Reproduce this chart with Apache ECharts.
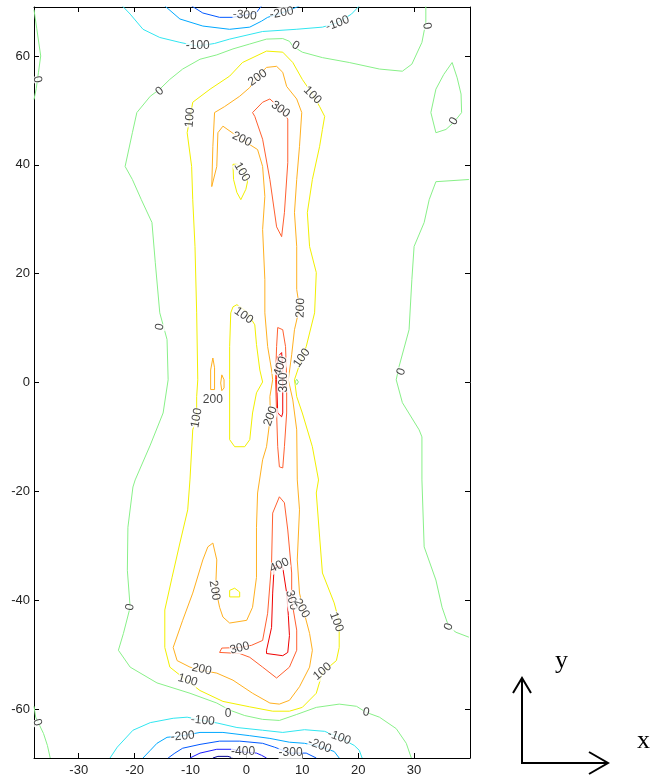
<!DOCTYPE html>
<html><head><meta charset="utf-8">
<script src="https://cdn.jsdelivr.net/npm/echarts/dist/echarts.min.js"></script>
<style>html,body{margin:0;padding:0;background:#fff}#c{width:653px;height:778px}</style>
</head><body><div id="c"></div>
<script>
// ---- axis ranges / ticks ----
const xRange = [-38, 40];
const yRange = [-69, 69];

// ---- contour lines (data coordinates), grouped by level ----
const lv0_main = [[32.1,69.2],[32.1,66.2],[31.4,62.5],[29.6,58.5],[27.9,57.2],[23.8,57.6],[18.4,58.8],[13.6,59.7],[10.0,60.7],[8.3,61.8],[7.7,62.7],[6.5,63.2],[3.6,63.1],[0.6,62.2],[-2.4,61.3],[-5.3,60.2],[-8.3,59.4],[-11.4,57.6],[-13.7,55.7],[-15.5,53.9],[-17.2,52.6],[-19.6,49.6],[-20.4,45.9],[-21.7,39.7],[-20.4,37.3],[-18.8,33.6],[-16.9,29.4],[-16.3,22.0],[-15.5,12.8],[-14.2,7.9],[-14.0,0.5],[-14.9,-5.6],[-17.2,-11.5],[-19.9,-17.9],[-20.3,-19.2],[-21.2,-26.6],[-21.3,-34.5],[-20.8,-41.3],[-22.0,-46.1],[-22.9,-49.2],[-20.8,-52.3],[-16.0,-55.2],[-10.1,-57.1],[-5.3,-58.9],[-3.0,-60.2],[-0.3,-61.2],[2.9,-61.9],[5.9,-62.1],[9.0,-61.0],[12.5,-59.7],[16.6,-59.1],[19.7,-59.5],[21.4,-60.6],[23.8,-61.5],[26.8,-63.6],[28.6,-66.3],[29.5,-69.0]];
const lv0_right = [[39.8,37.3],[33.9,36.9],[32.7,33.6],[31.8,29.4],[30.0,25.0],[29.6,18.9],[29.1,9.7],[27.3,2.9],[26.8,0.5],[27.9,-3.7],[30.9,-8.7],[31.4,-10.0],[31.4,-17.9],[31.8,-30.2],[33.9,-36.3],[35.0,-41.3],[36.2,-44.9],[37.5,-45.9],[39.8,-46.8]];
const lv0_ellipse = [[36.8,58.8],[35.3,56.6],[33.9,53.9],[33.0,49.6],[33.9,45.9],[35.7,46.5],[37.1,47.8],[38.5,49.6],[38.4,53.0],[37.7,56.0],[36.8,58.8]];
const lv0_topLeft = [[-38,68.5],[-37.5,65],[-36.8,60],[-37.2,57],[-37.6,54],[-38,52]];
const lv0_botLeft = [[-38,-59.5],[-37.7,-61.5],[-36.3,-64.5],[-35.6,-66.7],[-35.1,-69]];
const lv0_dot = [[8.7,0.1],[9.0,0.6],[9.3,0.1],[9.0,-0.4],[8.7,0.1]];

const lv100_main = [[-9.6,51.5],[-6.5,53.9],[-3.0,56.3],[-0.7,58.8],[3.6,60.9],[6.5,60.7],[8.3,58.8],[10.0,55.7],[11.8,53.0],[13.1,50.7],[14.0,48.9],[13.6,46.5],[13.1,43.4],[11.8,37.3],[10.9,31.2],[11.3,25.0],[12.5,20.2],[12.2,12.8],[10.7,6.6],[9.9,4.5],[8.6,0.5],[9.0,-2.6],[10.0,-5.6],[11.8,-11.8],[12.9,-17.9],[12.5,-20.3],[13.1,-28.4],[13.6,-35.0],[15.7,-40.5],[16.6,-44.0],[16.6,-48.7],[16.1,-51.1],[13.6,-53.3],[12.5,-57.1],[10.0,-59.7],[7.7,-60.4],[4.7,-60.4],[0.6,-59.6],[-4.2,-58.6],[-8.3,-56.6],[-10.5,-54.9],[-13.7,-52.3],[-14.6,-48.7],[-14.6,-41.8],[-13.3,-35.8],[-11.9,-29.5],[-10.5,-23.4],[-10.1,-17.9],[-9.6,-8.7],[-8.9,-6.5],[-8.9,-2.6],[-8.7,0.5],[-8.9,12.8],[-9.2,25.0],[-9.6,33.6],[-9.8,39.7],[-10.6,45.9],[-10.1,48.6],[-9.6,51.5]];
const lv100_inner = [[-1.7,14.3],[0.05,13.0],[1.5,10.6],[1.8,7.0],[2.4,2.3],[2.9,0.1],[1.8,-1.9],[1.1,-5.6],[0.6,-10.5],[-0.3,-11.8],[-2.1,-11.8],[-3.0,-10.5],[-3.0,0.5],[-3.0,6.6],[-2.8,12.8],[-2.4,13.9],[-1.7,14.3]];
const lv100_upper = [[-2.4,40.1],[-1.6,40.1],[-0.5,38.8],[0.2,36.9],[-0.1,35.5],[-1.0,33.6],[-1.7,34.9],[-2.3,37.3],[-2.4,40.1]];
const lv100_small = [[-3.0,-39.4],[-3.0,-38.2],[-2.1,-37.8],[-1.2,-38.5],[-1.2,-39.4],[-3.0,-39.4]];

const lv200_main = [[-6.2,36.0],[-6.0,43.4],[-5.7,49.6],[-3.9,50.7],[-1.2,52.6],[0.6,54.2],[2.0,56.3],[3.6,57.9],[5.4,58.1],[6.5,57.0],[7.2,54.4],[9.0,52.1],[9.9,49.6],[9.5,43.4],[9.0,37.3],[8.6,31.2],[9.0,25.0],[9.0,17.1],[9.5,13.7],[8.6,9.7],[8.1,5.1],[7.5,0.5],[8.3,-3.2],[9.0,-8.7],[9.1,-17.9],[9.5,-23.4],[9.1,-32.6],[9.5,-38.7],[10.2,-41.8],[11.3,-46.1],[11.8,-49.2],[11.3,-52.3],[9.5,-55.9],[7.7,-58.4],[5.9,-59.1],[4.2,-58.9],[1.1,-57.1],[-2.4,-54.7],[-5.3,-53.4],[-8.0,-52.9],[-10.1,-52.3],[-12.4,-51.1],[-13.1,-48.7],[-11.4,-43.7],[-9.6,-38.7],[-7.8,-32.6],[-6.9,-30.2],[-6.0,-29.5],[-5.3,-32.6],[-5.5,-37.8],[-4.8,-41.3],[-4.2,-43.1],[-3.0,-44.2],[0.05,-43.7],[1.1,-41.3],[1.8,-35.8],[1.8,-26.6],[2.0,-20.3],[2.9,-14.2],[3.6,-11.8],[4.3,-6.2],[4.2,-2.6],[4.7,0.5],[4.5,2.3],[3.8,6.6],[3.3,12.8],[3.3,18.9],[2.9,28.1],[3.3,34.2],[2.9,39.7],[2.0,42.8],[-0.9,44.7],[-4.2,47.1],[-5.1,45.9],[-5.3,39.7],[-6.2,36.0]];
const lv200_s1 = [[-6.4,-1.3],[-6.4,2.3],[-6.0,4.5],[-5.7,2.7],[-5.7,-1.3],[-6.4,-1.3]];
const lv200_s2 = [[-4.4,1.4],[-4.0,0.5],[-4.0,-1.0],[-4.4,-1.5],[-4.6,-0.1],[-4.4,1.4]];

const lv300_top = [[1.1,49.6],[2.9,51.5],[4.2,52.1],[5.9,50.5],[7.4,48.4],[7.4,40.4],[6.8,31.2],[6.3,26.8],[5.4,28.6],[4.2,37.3],[2.9,44.7],[1.5,48.9],[1.1,49.6]];
const lv300_mid = [[5.6,10.1],[6.5,9.7],[7.0,6.6],[7.2,0.5],[7.2,-5.6],[6.8,-11.8],[6.5,-15.7],[5.9,-15.5],[5.6,-11.8],[5.4,-5.6],[5.2,0.5],[5.4,6.6],[5.6,10.1]];
const lv300_bot = [[5.9,-21.0],[6.8,-22.1],[7.4,-27.1],[8.1,-35.0],[8.1,-40.0],[9.0,-45.5],[9.0,-49.2],[7.7,-52.3],[5.4,-54.3],[2.9,-52.3],[0.6,-50.5],[-1.2,-49.8],[-4.8,-49.6],[-4.4,-48.8],[-1.2,-48.7],[0.9,-48.3],[2.9,-47.4],[3.8,-42.4],[4.5,-33.2],[4.7,-24.0],[5.9,-21.0]];

const lv400_mid = [[5.6,4.7],[6.3,5.5],[6.5,2.9],[6.5,-5.6],[6.3,-6.3],[5.6,-5.6],[5.4,0.5],[5.6,4.7]];
const lv400_bot = [[5.0,-33.6],[6.5,-34.0],[7.2,-38.7],[7.5,-42.8],[7.7,-46.5],[7.4,-49.6],[6.5,-50.2],[3.6,-49.8],[3.6,-49.2],[4.5,-45.0],[4.7,-38.7],[4.9,-35.0],[5.0,-33.6]];

const lvm100_top = [[-22.2,69.2],[-20.8,67.7],[-18.5,64.9],[-15.5,63.4],[-11.9,62.5],[-8.7,61.8],[-5.7,62.3],[-3.0,63.1],[2.9,64.5],[8.9,64.9],[13.6,65.3],[16.3,66.1],[18.8,67.7],[20.2,69.2]];
const lvm200_top = [[-14.6,69.2],[-11.9,66.8],[-7.8,65.5],[-3.0,64.9],[0.6,65.3],[2.7,66.4],[3.8,67.1],[6.3,67.9],[8.6,68.8],[9.5,69.2]];
const lvm300_top = [[-9.8,69.2],[-7.8,67.9],[-4.8,67.1],[-2.4,67.1],[-0.3,67.5],[1.8,68.0],[2.7,69.2]];

const lvm100_bot = [[-24.4,-69.0],[-23.1,-67.0],[-20.3,-63.9],[-17.2,-62.5],[-13.1,-61.7],[-10.6,-61.5],[-7.8,-62.1],[-5.1,-62.6],[-1.7,-63.4],[2.9,-63.9],[6.5,-64.3],[10.4,-63.8],[14.0,-64.1],[16.6,-65.2],[19.3,-66.7],[20.2,-67.6],[20.7,-69.0]];
const lvm200_bot = [[-18.5,-69.0],[-17.2,-67.6],[-16.0,-66.3],[-14.2,-65.2],[-11.4,-64.9],[-8.3,-64.3],[-4.2,-64.3],[0.6,-64.9],[4.2,-65.4],[7.7,-66.1],[10.4,-66.3],[13.1,-66.9],[15.7,-67.8],[16.6,-69.0]];
const lvm300_bot = [[-14.0,-69.0],[-12.8,-68.1],[-11.4,-67.2],[-8.3,-66.5],[-4.8,-65.9],[-1.2,-65.9],[2.9,-66.3],[5.0,-67.0],[7.9,-68.1],[10.7,-68.1],[12.5,-69.0]];
const lvm400_bot = [[-10.1,-69.0],[-8.3,-68.1],[-5.3,-67.4],[-2.4,-67.4],[-0.6,-67.9],[1.8,-68.1],[2.7,-68.5],[3.6,-69.0]];
const lvm500_bot = [[-6.0,-69.0],[-5.1,-68.7],[-3.3,-68.7],[-2.4,-69.0]];

// level -> color, and which lines belong to it
const levelColors = {'-500':'#000090','-400':'#1a1aff','-300':'#0058ff','-200':'#00a8ff','-100':'#30e6f0','0':'#88f088','100':'#f2f000','200':'#ffb020','300':'#ff6030','400':'#f00000'};
const levelLines = [
  ['0', [lv0_main, lv0_right, lv0_ellipse, lv0_topLeft, lv0_botLeft, lv0_dot]],
  ['100', [lv100_main, lv100_inner, lv100_upper, lv100_small]],
  ['200', [lv200_main, lv200_s1, lv200_s2]],
  ['300', [lv300_top, lv300_mid, lv300_bot]],
  ['400', [lv400_mid, lv400_bot]],
  ['-100', [lvm100_top, lvm100_bot]],
  ['-200', [lvm200_top, lvm200_bot]],
  ['-300', [lvm300_top, lvm300_bot]],
  ['-400', [lvm400_bot]],
  ['-500', [lvm500_bot]]
];

// contour labels: x, y, text, rotation
const contourLabels = [
[-0.3,67.5,'-300',-5],[6.3,67.9,'-200',10],[-8.7,61.8,'-100',0],[16.3,66.0,'-100',20],
[8.8,61.9,'0',-30],[-15.5,53.5,'0',40],[32.3,65.5,'0',-80],[37.1,48.0,'0',60],[-37.4,55.7,'0',-80],
[2.0,56.0,'200',35],[11.8,52.8,'100',-45],[-10.1,48.7,'100',85],[6.1,50.2,'300',-35],
[-0.8,44.7,'200',-25],[-0.8,38.7,'100',-60],[-15.5,10.2,'0',80],[9.7,13.7,'200',88],
[-0.5,12.3,'100',-35],[9.9,4.5,'100',55],[27.7,2.0,'0',70],[-6.0,-3.2,'200',0],
[-8.9,-6.5,'100',80],[4.3,-6.2,'200',70],[6.1,3.0,'400',70],[6.6,0.0,'300',90],
[5.9,-33.6,'400',25],[8.1,-40.0,'300',-75],[9.9,-41.5,'200',-60],[-5.7,-38.2,'200',-80],
[16.1,-44.0,'100',-70],[-1.2,-48.8,'300',15],[-8.0,-52.7,'200',-12],[-10.5,-54.7,'100',-15],
[13.6,-53.1,'100',40],[-3.3,-60.8,'0',0],[21.4,-60.6,'0',-10],[-37.4,-62.5,'0',-70],
[-20.8,-41.3,'0',80],[-7.8,-62.1,'-100',-5],[16.6,-65.2,'-100',-20],[-11.4,-65.0,'-200',5],
[13.1,-66.7,'-200',-20],[7.9,-68.1,'-300',0],[-0.6,-67.9,'-400',0],[36.2,-44.9,'0',70]
];

const chart = echarts.init(document.getElementById('c'), null, {renderer:'canvas'});
const series = [];
levelLines.forEach(([lv, lines]) => {
  lines.forEach(pts => {
    series.push({type:'line', data: pts, showSymbol:false, symbol:'none', smooth:false,
      lineStyle:{color: levelColors[lv], width:1}, z:2, silent:true, clip:true});
  });
});
series.push({
  type:'scatter', z:5, symbolSize:1, silent:true,
  itemStyle:{color:'rgba(0,0,0,0)'},
  data: contourLabels.map(d => ({value:[d[0], d[1]], label:{formatter: d[2], rotate: d[3]}})),
  label:{show:true, position:'inside', color:'#111', fontSize:12, fontFamily:'Liberation Sans, Arial, sans-serif',
         backgroundColor:'#fff', padding:[0,0]}
});

const axisCommon = {
  type:'value', axisLine:{show:true, onZero:false, lineStyle:{color:'#000', width:1}},
  axisTick:{show:true, inside:true, length:5, lineStyle:{color:'#000'}},
  splitLine:{show:false}
};
const labelStyle = {color:'#222', fontSize:13, fontFamily:'Liberation Sans, Arial, sans-serif', showMinLabel:false, showMaxLabel:false};

chart.setOption({
  animation:false,
  backgroundColor:'#fff',
  grid:{left:34, top:7, width:436, height:751},
  xAxis:[
    Object.assign({}, axisCommon, {min:xRange[0], max:xRange[1], splitNumber:8, position:'bottom', axisLabel:Object.assign({margin:6}, labelStyle)}),
    Object.assign({}, axisCommon, {min:xRange[0], max:xRange[1], splitNumber:8, position:'top', axisLabel:{show:false}})
  ],
  yAxis:[
    Object.assign({}, axisCommon, {min:yRange[0], max:yRange[1], splitNumber:7, position:'left', axisLabel:Object.assign({margin:4}, labelStyle)}),
    Object.assign({}, axisCommon, {min:yRange[0], max:yRange[1], splitNumber:7, position:'right', axisLabel:{show:false}})
  ],
  series: series,
  graphic:[
    {type:'polyline', shape:{points:[[522,763],[522,678]]}, style:{stroke:'#000', lineWidth:2, fill:null}},
    {type:'polyline', shape:{points:[[513,693],[522,678],[531,693]]}, style:{stroke:'#000', lineWidth:2, fill:null}},
    {type:'polyline', shape:{points:[[521,763],[608,763]]}, style:{stroke:'#000', lineWidth:2, fill:null}},
    {type:'polyline', shape:{points:[[589,752],[608,763],[589,774]]}, style:{stroke:'#000', lineWidth:2, fill:null}},
    {type:'text', left:555, top:648, style:{text:'y', font:'26px "Liberation Serif", "DejaVu Serif", serif', fill:'#000'}},
    {type:'text', left:637, top:728, style:{text:'x', font:'26px "Liberation Serif", "DejaVu Serif", serif', fill:'#000'}}
  ]
});
</script></body></html>
